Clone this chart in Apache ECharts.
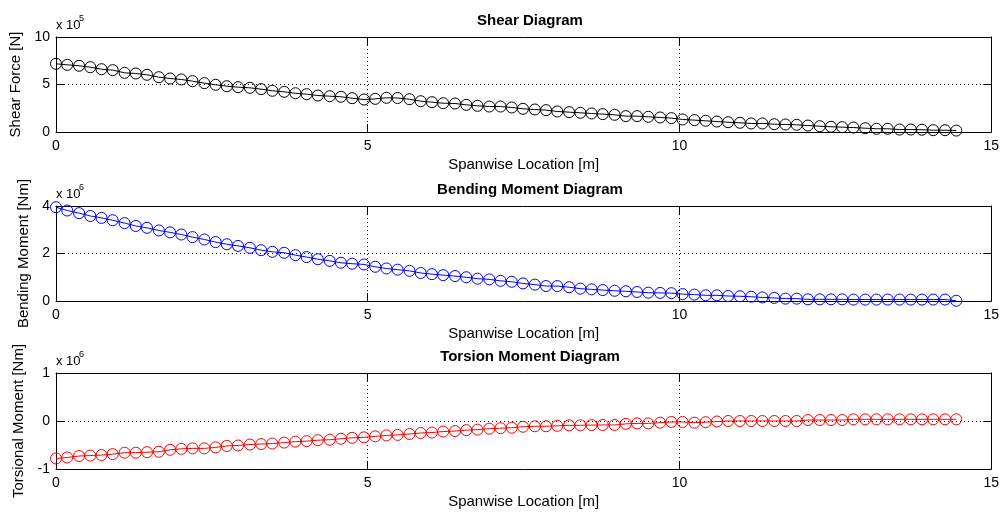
<!DOCTYPE html>
<html>
<head>
<meta charset="utf-8">
<script src="https://cdn.jsdelivr.net/npm/echarts@6/dist/echarts.min.js"></script>
<style>
  html, body { margin: 0; padding: 0; background: #ffffff; }
  #chart { width: 1002px; height: 514px; }
</style>
</head>
<body>
<div id="chart"></div>
<script>
// Spanwise stations [m]
const stations = [
  0.00, 0.18, 0.37, 0.55, 0.73, 0.91, 1.10, 1.28, 1.46, 1.65,
  1.83, 2.01, 2.19, 2.38, 2.56, 2.74, 2.92, 3.11, 3.29, 3.47,
  3.66, 3.84, 4.02, 4.20, 4.39, 4.57, 4.75, 4.94, 5.12, 5.30,
  5.48, 5.67, 5.85, 6.03, 6.21, 6.40, 6.58, 6.76, 6.95, 7.13,
  7.31, 7.49, 7.68, 7.86, 8.04, 8.23, 8.41, 8.59, 8.77, 8.96,
  9.14, 9.32, 9.50, 9.69, 9.87, 10.05, 10.24, 10.42, 10.60, 10.78,
  10.97, 11.15, 11.33, 11.52, 11.70, 11.88, 12.06, 12.25, 12.43, 12.61,
  12.79, 12.98, 13.16, 13.34, 13.53, 13.71, 13.89, 14.07, 14.26, 14.44
];

// Shear force [x 10^5 N]
const shear = [
  7.18, 7.07, 6.97, 6.82, 6.61, 6.51, 6.23, 6.16, 6.02, 5.77,
  5.63, 5.53, 5.35, 5.14, 4.97, 4.82, 4.72, 4.65, 4.51, 4.34,
  4.23, 4.08, 3.98, 3.84, 3.77, 3.71, 3.56, 3.42, 3.49, 3.60,
  3.58, 3.45, 3.24, 3.14, 3.03, 3.00, 2.86, 2.76, 2.68, 2.68,
  2.58, 2.44, 2.37, 2.30, 2.16, 2.09, 2.02, 1.95, 1.88, 1.81,
  1.67, 1.67, 1.60, 1.53, 1.46, 1.32, 1.25, 1.18, 1.10, 1.03,
  0.97, 0.90, 0.90, 0.82, 0.79, 0.76, 0.68, 0.61, 0.55, 0.51,
  0.47, 0.40, 0.34, 0.34, 0.26, 0.26, 0.24, 0.19, 0.19, 0.15
];

// Bending moment [x 10^6 Nm]
const bending = [
  3.95, 3.81, 3.70, 3.58, 3.50, 3.40, 3.28, 3.16, 3.08, 2.97,
  2.89, 2.80, 2.69, 2.59, 2.48, 2.39, 2.32, 2.24, 2.14, 2.07,
  2.03, 1.93, 1.85, 1.76, 1.69, 1.61, 1.57, 1.54, 1.44, 1.37,
  1.32, 1.27, 1.18, 1.13, 1.09, 1.05, 1.00, 0.94, 0.91, 0.85,
  0.81, 0.74, 0.69, 0.63, 0.63, 0.58, 0.52, 0.49, 0.46, 0.43,
  0.41, 0.38, 0.35, 0.34, 0.33, 0.29, 0.27, 0.24, 0.24, 0.21,
  0.20, 0.18, 0.15, 0.13, 0.10, 0.10, 0.07, 0.07, 0.07, 0.07,
  0.06, 0.06, 0.06, 0.06, 0.06, 0.06, 0.06, 0.06, 0.06, 0.01
];

// Torsional moment [x 10^6 Nm]
const torsion = [
  -0.78, -0.76, -0.73, -0.72, -0.71, -0.69, -0.66, -0.66, -0.65, -0.64,
  -0.60, -0.58, -0.57, -0.57, -0.55, -0.52, -0.51, -0.49, -0.48, -0.47,
  -0.45, -0.43, -0.42, -0.40, -0.39, -0.37, -0.35, -0.34, -0.32, -0.30,
  -0.29, -0.27, -0.25, -0.24, -0.22, -0.21, -0.19, -0.18, -0.16, -0.15,
  -0.14, -0.12, -0.11, -0.11, -0.10, -0.09, -0.09, -0.085, -0.083, -0.083,
  -0.06, -0.05, -0.05, -0.035, -0.02, -0.02, -0.035, -0.025, -0.01, 0.00,
  0.00, 0.00, 0.00, 0.00, 0.00, 0.00, 0.02, 0.02, 0.02, 0.02,
  0.035, 0.035, 0.035, 0.035, 0.035, 0.035, 0.035, 0.035, 0.035, 0.035
];

const panels = [
  { title: 'Shear Diagram', yName: 'Shear Force [N]', values: shear, color: '#000000',
    min: 0, max: 10, interval: 5, exp: '5', top: 37, height: 95, nameGap: 30 },
  { title: 'Bending Moment Diagram', yName: 'Bending Moment [Nm]', values: bending, color: '#0000ff',
    min: 0, max: 4, interval: 2, exp: '6', top: 206, height: 95, nameGap: 22 },
  { title: 'Torsion Moment Diagram', yName: 'Torsional Moment [Nm]', values: torsion, color: '#ff0000',
    min: -1, max: 1, interval: 1, exp: '6', top: 373, height: 96, nameGap: 27 }
];

const FONT = 'Liberation Sans, Arial, sans-serif';
const LEFT = 56, RIGHT = 8;

const grid = [], xAxis = [], yAxis = [], series = [], title = [], graphic = [];

const dotted = { show: true, lineStyle: { color: '#000', type: [1, 3], width: 1 } };
const tick = { show: true, inside: true, length: 8, lineStyle: { color: '#000' } };
const solidLine = { show: true, onZero: false, lineStyle: { color: '#000', width: 1 } };

panels.forEach((p, k) => {
  grid.push({ left: LEFT, right: RIGHT, top: p.top, height: p.height, containLabel: false });

  // bottom x axis with labels and name
  xAxis.push({
    type: 'value', gridIndex: k, min: 0, max: 15, interval: 5, position: 'bottom',
    name: 'Spanwise Location [m]', nameLocation: 'middle', nameGap: 25,
    nameTextStyle: { fontFamily: FONT, fontSize: 15, color: '#000' },
    axisLine: solidLine,
    axisTick: tick,
    axisLabel: { fontFamily: FONT, fontSize: 14, color: '#000', margin: 7 },
    splitLine: dotted, z: 3
  });
  // mirrored top x axis (ticks only)
  xAxis.push({
    type: 'value', gridIndex: k, min: 0, max: 15, interval: 5, position: 'top',
    axisLine: solidLine,
    axisTick: tick, axisLabel: { show: false }, splitLine: { show: false }, z: 3
  });

  yAxis.push({
    type: 'value', gridIndex: k, min: p.min, max: p.max, interval: p.interval, position: 'left',
    name: p.yName, nameLocation: 'middle', nameRotate: 90, nameGap: p.nameGap,
    nameTextStyle: { fontFamily: FONT, fontSize: 15, color: '#000' },
    axisLine: solidLine,
    axisTick: tick,
    axisLabel: { fontFamily: FONT, fontSize: 14, color: '#000', margin: 6 },
    splitLine: dotted, z: 3
  });
  yAxis.push({
    type: 'value', gridIndex: k, min: p.min, max: p.max, interval: p.interval, position: 'right',
    axisLine: solidLine,
    axisTick: tick, axisLabel: { show: false }, splitLine: { show: false }, z: 3
  });

  series.push({
    type: 'line', xAxisIndex: 2 * k, yAxisIndex: 2 * k,
    data: stations.map((x, i) => [x, p.values[i]]),
    symbol: 'circle', symbolSize: 11, showSymbol: true,
    lineStyle: { color: p.color, width: 1 },
    itemStyle: { color: 'rgba(0,0,0,0)', borderColor: p.color, borderWidth: 1 },
    emphasis: { disabled: true },
    animation: false, z: 4
  });

  title.push({
    text: p.title, left: LEFT + (1002 - LEFT - RIGHT) / 2, textAlign: 'center',
    top: p.top - 29,
    textStyle: { fontFamily: FONT, fontSize: 15, fontWeight: 'bold', color: '#000' }
  });

  // axis multiplier "x 10^n"
  graphic.push({
    type: 'text', left: LEFT, top: p.top - 18,
    style: { text: 'x 10', fontFamily: FONT, fontSize: 13, fill: '#000' }
  });
  graphic.push({
    type: 'text', left: LEFT + 23, top: p.top - 23,
    style: { text: p.exp, fontFamily: FONT, fontSize: 9, fill: '#000' }
  });
});

const chart = echarts.init(document.getElementById('chart'), null, { renderer: 'canvas' });
chart.setOption({
  backgroundColor: '#ffffff',
  animation: false,
  title, grid, xAxis, yAxis, series, graphic,
  tooltip: { show: false }
});
</script>
</body>
</html>
